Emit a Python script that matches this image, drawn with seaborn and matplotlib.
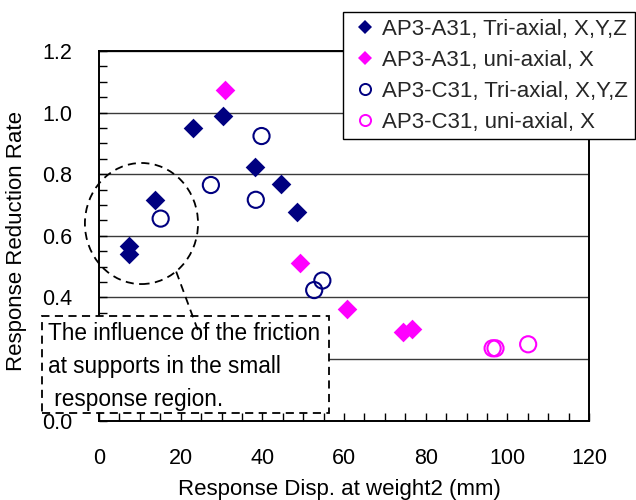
import matplotlib
matplotlib.use("Agg")
import matplotlib.pyplot as plt
from matplotlib.lines import Line2D
from matplotlib.patches import Ellipse, Rectangle
from matplotlib.ticker import MultipleLocator
import seaborn as sns
import pandas as pd

# Response displacement at weight 2 (mm) and response reduction rate per test series
a31_tri_x = [7.4, 7.4, 13.7, 22.9, 30.4, 38.2, 44.6, 48.4]
a31_tri_y = [0.567, 0.540, 0.716, 0.951, 0.989, 0.825, 0.768, 0.679]

a31_uni_x = [30.9, 49.2, 60.7, 74.5, 76.6]
a31_uni_y = [1.074, 0.513, 0.362, 0.287, 0.297]

c31_tri_x = [15.1, 27.4, 38.4, 39.8, 52.7, 54.7]
c31_tri_y = [0.656, 0.765, 0.717, 0.924, 0.424, 0.455]

c31_uni_x = [96.4, 97.1, 105.1]
c31_uni_y = [0.235, 0.235, 0.248]

labels = ["AP3-A31, Tri-axial, X,Y,Z", "AP3-A31, uni-axial, X",
          "AP3-C31, Tri-axial, X,Y,Z", "AP3-C31, uni-axial, X"]

x_ticks = [0, 20, 40, 60, 80, 100, 120]
y_ticks = [0.0, 0.2, 0.4, 0.6, 0.8, 1.0, 1.2]
y_tick_labels = ["0.0", "0.2", "0.4", "0.6", "0.8", "1.0", "1.2"]

note = "The influence of the friction\nat supports in the small\n response region."

NAVY = "#000080"
MAGENTA = "#FF00FF"

sns.set_theme(style="white")
plt.rcParams["font.family"] = ["Liberation Sans", "DejaVu Sans"]

W, H = 636, 500
fig = plt.figure(figsize=(W / 100, H / 100), dpi=100)
ax = fig.add_axes([99 / W, 1 - 420.7 / H, 490 / W, 369.7 / H])

df_a_tri = pd.DataFrame({"x": a31_tri_x, "y": a31_tri_y})
df_a_uni = pd.DataFrame({"x": a31_uni_x, "y": a31_uni_y})
df_c_tri = pd.DataFrame({"x": c31_tri_x, "y": c31_tri_y})
df_c_uni = pd.DataFrame({"x": c31_uni_x, "y": c31_uni_y})

sns.scatterplot(data=df_a_tri, x="x", y="y", ax=ax, marker="D", s=100,
                color=NAVY, edgecolor=NAVY, linewidth=0, zorder=4, legend=False)
sns.scatterplot(data=df_a_uni, x="x", y="y", ax=ax, marker="D", s=100,
                color=MAGENTA, edgecolor=MAGENTA, linewidth=0, zorder=4, legend=False)
sns.scatterplot(data=df_c_tri, x="x", y="y", ax=ax, marker="o", s=135,
                facecolor="none", edgecolor=NAVY, linewidth=1.5, zorder=4, legend=False)
sns.scatterplot(data=df_c_uni, x="x", y="y", ax=ax, marker="o", s=135,
                facecolor="none", edgecolor=MAGENTA, linewidth=1.5, zorder=4, legend=False)

ax.set_xlim(0, 120)
ax.set_ylim(0, 1.2)
ax.set_xticks(x_ticks)
ax.set_yticks(y_ticks, y_tick_labels)
ax.xaxis.set_minor_locator(MultipleLocator(5))
ax.yaxis.set_minor_locator(MultipleLocator(0.05))
ax.tick_params(axis="both", which="both", direction="in", length=6, width=1,
               color="black", bottom=True, left=True, top=False, right=False)
ax.tick_params(axis="x", which="major", labelsize=15.5, pad=19.5, labelcolor="black")
ax.tick_params(axis="y", which="major", labelsize=15.5, pad=19, labelcolor="black")

# the 0.2 label sits fully underneath the note box
for lbl in ax.get_yticklabels():
    if lbl.get_text() == "0.2":
        lbl.set_visible(False)

ax.grid(axis="y", which="major", color="#3a3a3a", linewidth=1.0)
ax.grid(axis="x", visible=False)
ax.set_axisbelow(True)
for sp in ax.spines.values():
    sp.set_color("black")
    sp.set_linewidth(1.4)
    sp.set_visible(True)

ax.set_xlabel("Response Disp. at weight2 (mm)", fontsize=16, color="black")
ax.set_ylabel("Response Reduction Rate", fontsize=16, color="black")
ax.xaxis.set_label_coords(0.49, -0.158)
ax.yaxis.set_label_coords(-0.146, 0.485)

# Dashed ellipse around the small-response points and its leader line
ell = Ellipse((10.4, 0.640), 27.7, 0.393, fill=False, edgecolor="black",
              linewidth=1.3, linestyle=(0, (4.5, 3)), clip_on=False, zorder=3)
ax.add_patch(ell)

# Annotation box (figure pixel coordinates)
box = Rectangle((42 / W, 1 - 413 / H), (329 - 42) / W, (413 - 316) / H,
                transform=fig.transFigure, facecolor="white", edgecolor="black",
                linewidth=1.3, linestyle=(0, (4.5, 3)), clip_on=False, zorder=5)
ax.add_patch(box)
ax.text(48 / W, 1 - 322 / H, note, transform=fig.transFigure, fontsize=16.3,
        ha="left", va="top", linespacing=1.55, color="black", zorder=6)

ax.add_line(Line2D([18.9, 24.2], [0.484, 0.294], color="black", linewidth=1.3,
                   linestyle=(0, (4.5, 3)), clip_on=False, zorder=7))

handles = [
    Line2D([], [], linestyle="none", marker="D", markersize=7,
           markerfacecolor=NAVY, markeredgecolor=NAVY, markeredgewidth=0),
    Line2D([], [], linestyle="none", marker="D", markersize=7,
           markerfacecolor=MAGENTA, markeredgecolor=MAGENTA, markeredgewidth=0),
    Line2D([], [], linestyle="none", marker="o", markersize=8,
           markerfacecolor="none", markeredgecolor=NAVY, markeredgewidth=1.4),
    Line2D([], [], linestyle="none", marker="o", markersize=8,
           markerfacecolor="none", markeredgecolor=MAGENTA, markeredgewidth=1.4),
]
leg = fig.legend(handles, labels, loc="upper right",
                 bbox_to_anchor=(635 / W, 1 - 12 / H),
                 bbox_transform=fig.transFigure, borderaxespad=0,
                 fontsize=16, handlelength=1.3, handletextpad=0.15,
                 borderpad=0.3, labelspacing=0.45, frameon=True,
                 fancybox=False, framealpha=1, facecolor="white",
                 edgecolor="black")
leg.get_frame().set_linewidth(1.0)

fig.savefig("out.png", dpi=100, facecolor="white")
